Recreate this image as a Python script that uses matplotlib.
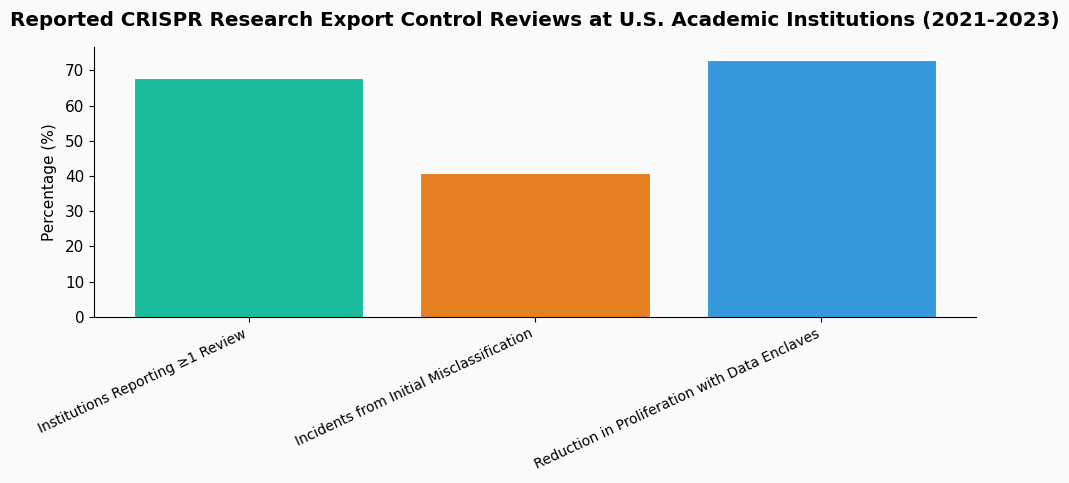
import matplotlib
matplotlib.use("Agg")
import matplotlib.pyplot as plt

categories = [
    "Institutions Reporting \u22651 Review",
    "Incidents from Initial Misclassification",
    "Reduction in Proliferation with Data Enclaves",
]
values = [67.8, 40.8, 73.0]
colors = ["#1abc9c", "#e67e22", "#3498db"]

fig, ax = plt.subplots(figsize=(10.69, 4.83), dpi=100)
fig.patch.set_facecolor("#fafafa")
ax.set_facecolor("#fafafa")

ax.bar(categories, values, color=colors, edgecolor="white", linewidth=0.8)

ax.set_ylabel("Percentage (%)", fontsize=11, labelpad=6)
ax.set_title("Reported CRISPR Research Export Control Reviews at U.S. Academic Institutions (2021-2023)",
             fontsize=14.3, fontweight="bold", pad=15)
ax.spines["top"].set_visible(False)
ax.spines["right"].set_visible(False)
ax.tick_params(axis="y", labelsize=11)
plt.setp(ax.get_xticklabels(), rotation=25, ha="right", fontsize=10)

fig.subplots_adjust(left=0.088, right=0.913, bottom=0.344, top=0.903)
plt.savefig("out.png", facecolor=fig.get_facecolor())
